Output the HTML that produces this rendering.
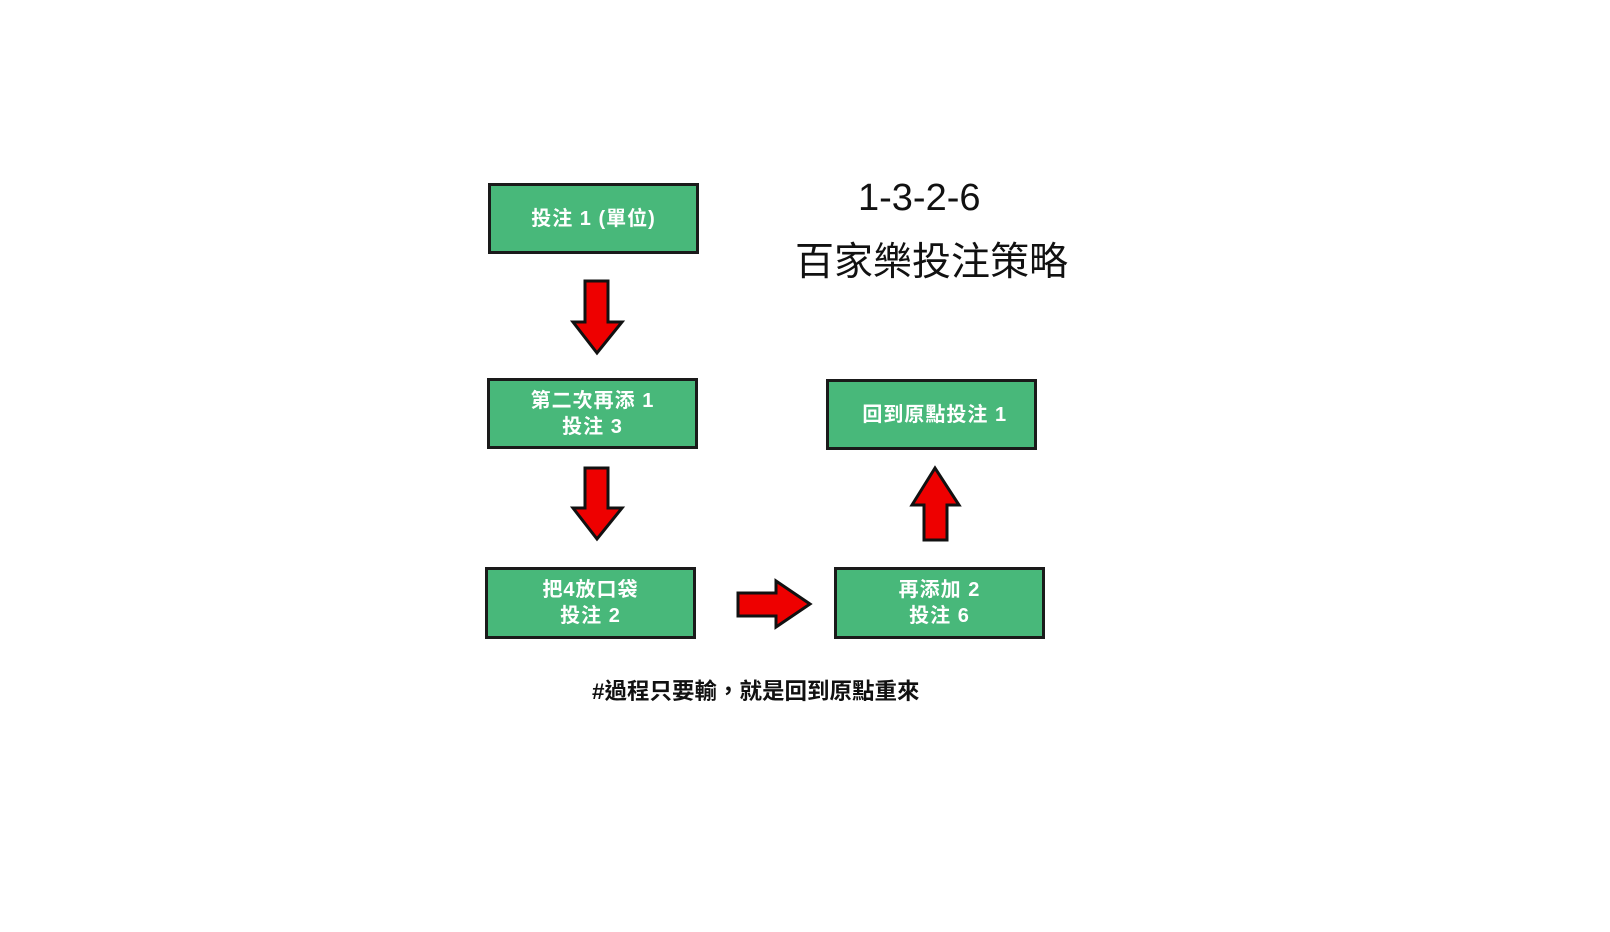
<!DOCTYPE html>
<html><head><meta charset="utf-8"><style>
body{margin:0;width:1610px;height:932px;background:#fff;position:relative;overflow:hidden;font-family:"Liberation Sans","Noto Sans CJK TC",sans-serif}
.b{position:absolute;box-sizing:border-box;background:#48b87a;border:3px solid #1a1a1a;color:#fff;font-weight:bold;font-size:20px;line-height:26px;display:flex;align-items:center;justify-content:center;text-align:center;letter-spacing:1px}
.t{position:absolute;color:#111;white-space:nowrap}
svg{position:absolute;left:0;top:0}
</style></head><body>
<div class="b" style="left:488px;top:183px;width:211px;height:71px">投注 1 (單位)</div>
<div class="b" style="left:487px;top:378px;width:211px;height:71px">第二次再添 1<br>投注 3</div>
<div class="b" style="left:826px;top:379px;width:211px;height:71px">&nbsp;回到原點投注 1</div>
<div class="b" style="left:485px;top:567px;width:211px;height:72px">把4放口袋<br>投注 2</div>
<div class="b" style="left:834px;top:567px;width:211px;height:72px">再添加 2<br>投注 6</div>
<div class="t" style="left:858px;top:174px;font-size:38px;line-height:48px">1-3-2-6</div>
<div class="t" style="left:795px;top:240px;font-size:39px;line-height:46px">百家樂投注策略</div>
<div class="t" style="left:592px;top:678px;font-size:22.5px;line-height:28px;font-weight:bold">#過程只要輸，就是回到原點重來</div>
<svg width="1610" height="932">
<g fill="#ee0000" stroke="#111" stroke-width="3" stroke-linejoin="miter">
<polygon points="585,281 608,281 608,322 622,322 597,353 573,322 585,322"/>
<polygon points="585,468 608,468 608,508 622,508 597,539 573,508 585,508"/>
<polygon points="924,540 947,540 947,505 959,505 935,468 912,505 924,505"/>
<polygon points="738,593 776,593 776,581 810,604 776,627 776,616 738,616"/>
</g>
</svg>
</body></html>
